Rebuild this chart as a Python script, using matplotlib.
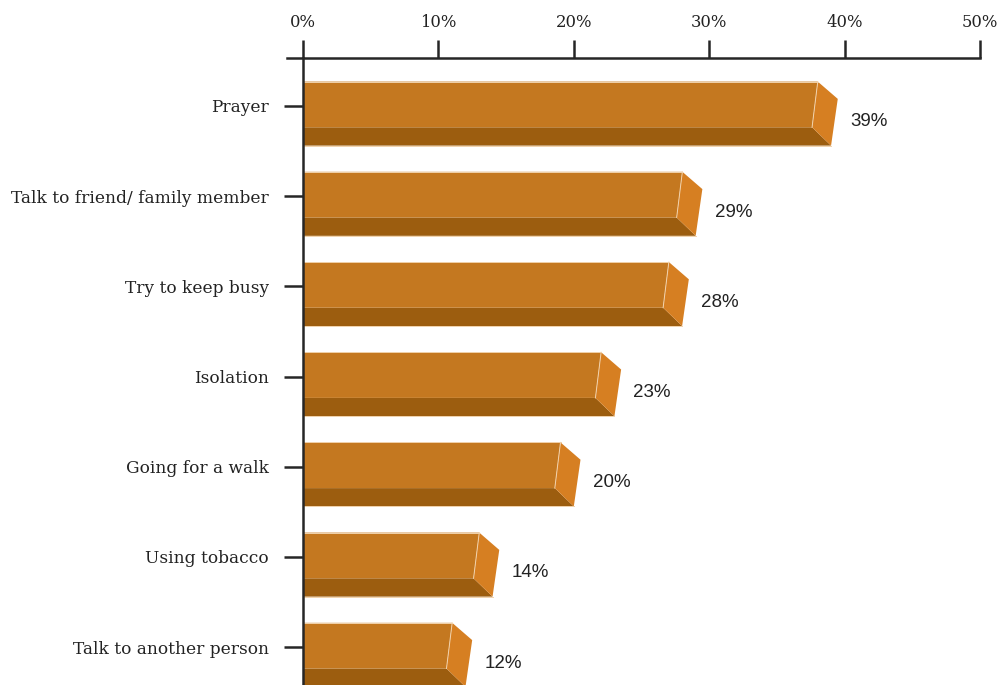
import matplotlib
matplotlib.use("Agg")
import matplotlib.pyplot as plt
from matplotlib.patches import Polygon
from matplotlib.lines import Line2D
from matplotlib.transforms import IdentityTransform

# ---------------- data ----------------
categories = ["Prayer", "Talk to friend/ family member", "Try to keep busy",
              "Isolation", "Going for a walk", "Using tobacco",
              "Talk to another person"]
values = [39, 29, 28, 23, 20, 14, 12]
value_labels = ["39%", "29%", "28%", "23%", "20%", "14%", "12%"]
xticks = [0, 10, 20, 30, 40, 50]
xtick_labels = ["0%", "10%", "20%", "30%", "40%", "50%"]

# ---------------- style ----------------
W, H = 1005, 685
FRONT = "#C47820"
BOTTOM = "#9C5D0F"
SIDE = "#D67F22"
EDGE = "#F1D2AC"
AXC = "#262626"
TXT = "#222222"
SERIF = ["DejaVu Serif"]
SANS = ["Liberation Sans", "DejaVu Sans"]

fig = plt.figure(figsize=(W / 100, H / 100), dpi=100)
ax = fig.add_axes([303 / W, 0, 677 / W, 1 - 58.3 / H])
ax.set_xlim(0, 50)
ax.set_ylim(6.420, -0.5277)

for s in ["right", "bottom"]:
    ax.spines[s].set_visible(False)
for s in ["top", "left"]:
    ax.spines[s].set_color(AXC)
    ax.spines[s].set_linewidth(1.8)
ax.spines["top"].set_bounds(-1.2, 50)

ax.xaxis.tick_top()
ax.set_xticks(xticks)
ax.set_xticklabels(xtick_labels, family=SERIF, fontsize=11.8, color=TXT)
ax.tick_params(axis="x", which="major", direction="out", length=13,
               width=1.8, color=AXC, pad=6.5)
ax.set_yticks(range(len(categories)))
ax.set_yticklabels(categories, family=SERIF, fontsize=12.25, color=TXT)
ax.tick_params(axis="y", which="major", direction="out", length=14,
               width=1.8, color=AXC, pad=10.5)
ax.set_facecolor("none")

ident = IdentityTransform()
TOP, MID, BOT = -24.3, 21.4, 39.7   # pixel offsets (down) from the category line

for i, (v, lab) in enumerate(zip(values, value_labels)):
    x0, yc = ax.transData.transform((0, i))
    xv, _ = ax.transData.transform((v, i))

    def pt(x, dy):
        return (x, yc - dy)

    front = [pt(x0, TOP), pt(xv - 13.3, TOP), pt(xv - 19, MID), pt(x0, MID)]
    bottom = [pt(x0, MID), pt(xv - 19, MID), pt(xv, BOT), pt(x0, BOT)]
    side = [pt(xv - 13.3, TOP), pt(xv + 6.7, TOP + 17.3), pt(xv, BOT), pt(xv - 19, MID)]
    for poly, col in [(bottom, BOTTOM), (front, FRONT), (side, SIDE)]:
        p = Polygon(poly, closed=True, facecolor=col, edgecolor="none",
                    transform=ident, clip_on=False, zorder=1)
        ax.add_patch(p)
    # thin light highlights
    for (a, b) in [(pt(x0, TOP), pt(xv - 13.3, TOP)),
                   (pt(x0, BOT), pt(xv, BOT)),
                   (pt(xv - 13.3, TOP), pt(xv - 19, MID))]:
        ln = Line2D([a[0], b[0]], [a[1], b[1]], color=EDGE, lw=0.7,
                    transform=ident, clip_on=False, zorder=2)
        ax.add_line(ln)
    ax.text(xv + 19, yc - 16, lab, transform=ident, ha="left", va="center",
            family=SANS, fontsize=13.5, color=TXT, zorder=3)

ax.set_zorder(1)
fig.savefig("out.png", dpi=100)
